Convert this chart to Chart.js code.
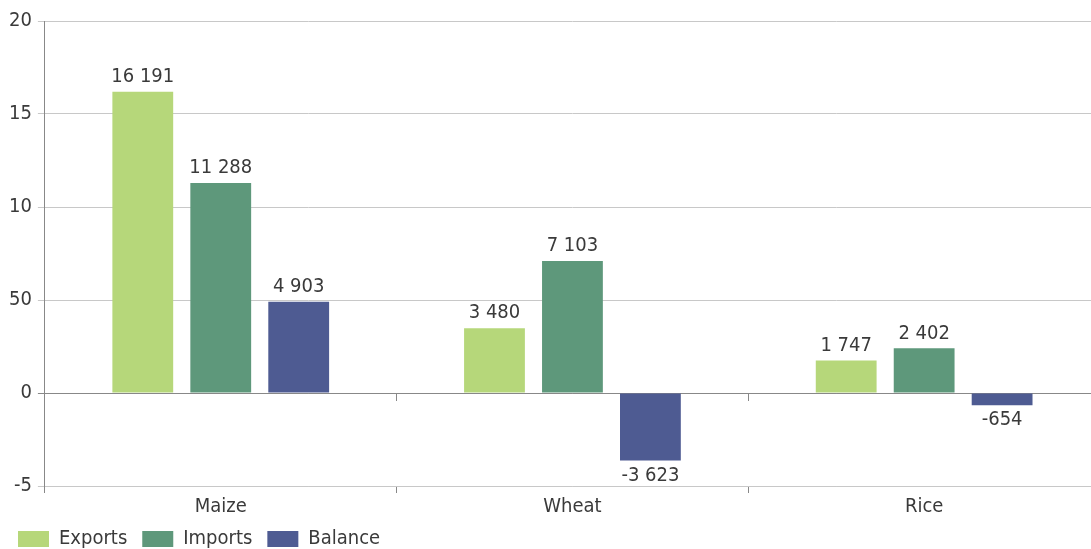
<!DOCTYPE html>
<html>
<head>
<meta charset="utf-8">
<script src="https://cdn.jsdelivr.net/npm/chart.js@4/dist/chart.umd.min.js"></script>
<style>
  html, body { margin: 0; padding: 0; background: #fff; overflow: hidden; }
  #wrap { width: 1091px; height: 549px; overflow: hidden; }
</style>
</head>
<body>
<div id="wrap"><canvas id="myChart" width="1100" height="559"></canvas></div>
<script>
// cereals trade, by crop
const cultures = ["Maize", "Wheat", "Rice"]
const exportsVals = [16191, 3480, 1747]
const importsVals = [11288, 7103, 2402]
const balanceVals = [4903, -3623, -654]
// y ticks as printed on the axis
const tickValues = [-5000, 0, 5000, 10000, 15000, 20000]
const tickLabels = ["-5", "0", "50", "10", "15", "20"]

const police = '"Liberation Sans Narrow", "DejaVu Sans Condensed", "Roboto", sans-serif'
const gris = "#3a3a3a"
const taille = 20

// espace comme séparateur de milliers
function formatNombre(v) {
  let s = Math.abs(v).toString().replace(/\B(?=(\d{3})+(?!\d))/g, " ")
  return (v < 0 ? "-" : "") + s
}

// valeurs au-dessus / en dessous des barres
const etiquettes = {
  id: "etiquettes",
  afterDatasetsDraw(chart) {
    const ctx = chart.ctx
    ctx.save()
    ctx.font = taille + "px " + police
    ctx.fillStyle = gris
    ctx.textAlign = "center"
    chart.data.datasets.forEach((ds, i) => {
      chart.getDatasetMeta(i).data.forEach((bar, j) => {
        let v = ds.data[j]
        if (v >= 0) {
          ctx.textBaseline = "bottom"
          ctx.fillText(formatNombre(v), bar.x, bar.y - 5)
        } else {
          ctx.textBaseline = "top"
          ctx.fillText(formatNombre(v), bar.x, bar.y + 5)
        }
      })
    })
    ctx.restore()
  }
}

const ctx = document.getElementById("myChart")
new Chart(ctx, {
  type: "bar",
  data: {
    labels: cultures,
    datasets: [
      { label: "Exports", data: exportsVals, backgroundColor: "#b6d77a" },
      { label: "Imports", data: importsVals, backgroundColor: "#5e987b" },
      { label: "Balance", data: balanceVals, backgroundColor: "#4e5b92" },
    ],
  },
  options: {
    responsive: false,
    devicePixelRatio: 1,
    animation: false,
    categoryPercentage: 0.665,
    barPercentage: 0.78,
    layout: { padding: { left: 3, top: 21, right: 0, bottom: 0 } },
    plugins: {
      legend: {
        position: "bottom",
        align: "start",
        labels: {
          boxWidth: 31,
          boxHeight: 16,
          padding: 15,
          color: gris,
          font: { family: police, size: taille },
        },
      },
      tooltip: { enabled: false },
    },
    scales: {
      x: {
        position: "bottom",
        grid: { display: true, drawOnChartArea: false, tickLength: 7, color: "#888" },
        border: { color: "#c8c8c8" },
        ticks: { color: gris, font: { family: police, size: taille }, padding: 2 },
        // rapproche les libellés de la légende
        afterFit: (scale) => { scale.height -= 7 },
      },
      // repères de catégories sur la ligne du zéro
      x2: {
        type: "category",
        labels: cultures,
        position: { y: 0 },
        offset: true,
        grid: { display: true, drawOnChartArea: false, tickLength: 7, color: "#888", offset: true },
        border: { color: "#888" },
        ticks: { display: false },
      },
      y: {
        min: -5000,
        max: 20000,
        afterBuildTicks: (axis) => { axis.ticks = tickValues.map(v => ({ value: v })) },
        grid: {
          tickLength: 7,
          color: (c) => c.tick && c.tick.value === 0 ? "#888" : "#c8c8c8",
        },
        border: { color: "#888" },
        ticks: {
          color: gris,
          padding: 6,
          font: { family: police, size: taille },
          callback: (v) => tickLabels[tickValues.indexOf(v)],
        },
      },
    },
  },
  plugins: [etiquettes],
})
</script>
</body>
</html>
